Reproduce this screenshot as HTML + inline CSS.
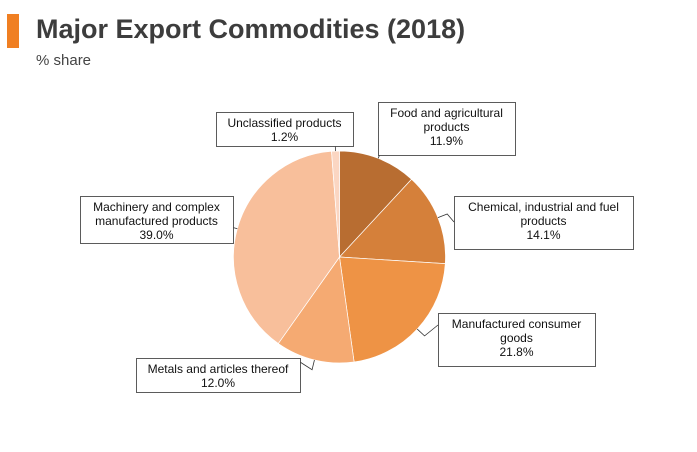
<!DOCTYPE html>
<html><head><meta charset="utf-8"><style>
body{margin:0;background:#fff;width:697px;height:452px;overflow:hidden;font-family:"Liberation Sans",sans-serif}
.bar{position:absolute;left:7px;top:14px;width:12px;height:34px;background:#f07f22}
.title{position:absolute;left:36px;top:14px;font-size:27px;font-weight:bold;color:#3d3d3d}
.sub{position:absolute;left:36px;top:52px;font-size:15px;color:#444}
</style></head><body>
<div class="bar"></div>
<div class="title">Major Export Commodities (2018)</div>
<div class="sub">% share</div>
<svg id="c" width="697" height="452" style="position:absolute;left:0;top:0"></svg>
<script>
const categories=["Food and agricultural|products","Chemical, industrial and fuel|products","Manufactured consumer|goods","Metals and articles thereof","Machinery and complex|manufactured products","Unclassified products"];
const values=[11.9,14.1,21.8,12.0,39.0,1.2];
const valueLabels=["11.9%","14.1%","21.8%","12.0%","39.0%","1.2%"];
const colors=["#b86d31","#d5803a","#ee9345","#f5aa72","#f8bf9b","#fbd6c2"];
const boxes=[[378,102,137,53,405,155],[454,196,179,53,454,222],[438,313,157,53,438,325],[136,358,164,34,300,362],[80,196,153,47,233,230],[216,112,137,34,330,146]];
const svg=document.getElementById('c');const NS="http://www.w3.org/2000/svg";
const cx=339.5,cy=257,r=106;
const total=values.reduce((a,b)=>a+b,0);
function pt(a,rr){return [cx+rr*Math.sin(a),cy-rr*Math.cos(a)];}
let acc=0;
values.forEach((v,i)=>{
 const a0=acc/total*2*Math.PI;acc+=v;const a1=acc/total*2*Math.PI;
 const p0=pt(a0,r),p1=pt(a1,r);
 const p=document.createElementNS(NS,'path');
 p.setAttribute('d',`M${cx},${cy}L${p0[0]},${p0[1]}A${r},${r} 0 ${a1-a0>Math.PI?1:0} 1 ${p1[0]},${p1[1]}Z`);
 p.setAttribute('fill',colors[i]);p.setAttribute('stroke','#fff');p.setAttribute('stroke-width','0.7');
 
 
 svg.appendChild(p);
 const b=boxes[i];const am=(a0+a1)/2;const e=pt(am,r);
 const l=document.createElementNS(NS,'polyline');
 const mid=pt(am,r+10);
 l.setAttribute('points',`${e[0]},${e[1]} ${mid[0]},${mid[1]} ${b[4]},${b[5]}`);
 l.setAttribute('fill','none');l.setAttribute('stroke','#333');l.setAttribute('stroke-width','0.8');
 
 
 svg.appendChild(l);
 const rect=document.createElementNS(NS,'rect');
 rect.setAttribute('x',b[0]+0.5);rect.setAttribute('y',b[1]+0.5);rect.setAttribute('width',b[2]);rect.setAttribute('height',b[3]);
 rect.setAttribute('fill','#fff');rect.setAttribute('stroke','#333');rect.setAttribute('stroke-width','0.8');
 
 
 svg.appendChild(rect);
 const lines=categories[i].split('|').concat([valueLabels[i]]);
 const t=document.createElementNS(NS,'text');
 t.setAttribute('font-size','12');t.setAttribute('fill','#111');t.setAttribute('text-anchor','middle');
 t.setAttribute('font-family','Liberation Sans, sans-serif');
 
 
 lines.forEach((s,k)=>{const ts=document.createElementNS(NS,'tspan');ts.setAttribute('x',b[0]+b[2]/2);ts.setAttribute('y',b[1]+15+k*14);ts.textContent=s;t.appendChild(ts);});
 svg.appendChild(t);
});
</script>
</body></html>
